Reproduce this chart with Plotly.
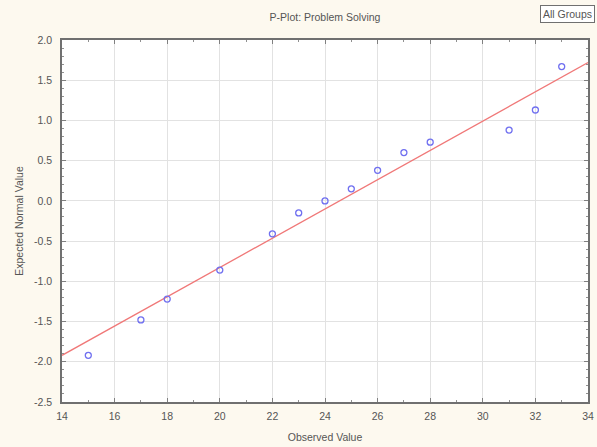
import plotly.graph_objects as go

observed = [15, 17, 18, 20, 22, 23, 24, 25, 26, 27, 28, 31, 32, 33]
expected = [-1.92, -1.48, -1.22, -0.86, -0.41, -0.15, 0.0, 0.15, 0.38, 0.60, 0.73, 0.88, 1.13, 1.67]
line_x = [14, 34]
line_y = [-1.92, 1.72]

x_ticks = [14, 16, 18, 20, 22, 24, 26, 28, 30, 32, 34]
y_ticks = [-2.5, -2.0, -1.5, -1.0, -0.5, 0.0, 0.5, 1.0, 1.5, 2.0]

fig = go.Figure()
fig.add_trace(go.Scatter(x=line_x, y=line_y, mode="lines",
                         line=dict(color="#f07878", width=1.3), hoverinfo="skip"))
fig.add_trace(go.Scatter(x=observed, y=expected, mode="markers",
                         marker=dict(symbol="circle-open", size=6, color="#7070f0",
                                     line=dict(width=1.3))))

font = dict(family="Liberation Sans, Arial, sans-serif", size=10.5, color="#555555")
axis_common = dict(showline=True, linecolor="#707070", linewidth=1.5, mirror="ticks",
                   ticks="inside", ticklen=4, tickcolor="#808080",
                   showgrid=True, gridcolor="#e2e2e2", gridwidth=1, zeroline=False,
                   tickfont=font,
                   minor=dict(ticks="inside", ticklen=2, tickcolor="#909090", showgrid=False))

fig.update_xaxes(range=[14, 34], tickvals=x_ticks, ticktext=[str(v) for v in x_ticks],
                 title=dict(text="Observed Value", font=font, standoff=12),
                 ticklabelstandoff=4,
                 minor_dtick=1, **axis_common)
fig.update_yaxes(range=[-2.5, 2.0], tickvals=y_ticks, ticktext=[f"{v:.1f}" for v in y_ticks],
                 title=dict(text="Expected Normal Value", font=font, standoff=8),
                 ticklabelstandoff=6,
                 minor_dtick=0.1, **axis_common)

fig.update_layout(
    width=597, height=447,
    margin=dict(l=62, r=9, t=40, b=45, autoexpand=False),
    paper_bgcolor="#fdf9ef", plot_bgcolor="#ffffff",
    showlegend=False,
    title=dict(text="P-Plot: Problem Solving", x=(325) / 597, y=1 - 17 / 447,
               xanchor="center", yanchor="middle", font=font),
    annotations=[dict(text="All Groups", xref="paper", yref="paper",
                      x=(540 - 62) / 526, y=(402 - 14) / 362, xanchor="left", yanchor="middle",
                      showarrow=False, font=font, bordercolor="#707070", borderwidth=1,
                      borderpad=2, bgcolor="#ffffff")],
)

fig.write_html("out.html", config={"displayModeBar": False},
               post_script="document.body.style.margin='0';document.body.style.background='#fdf9ef';")
